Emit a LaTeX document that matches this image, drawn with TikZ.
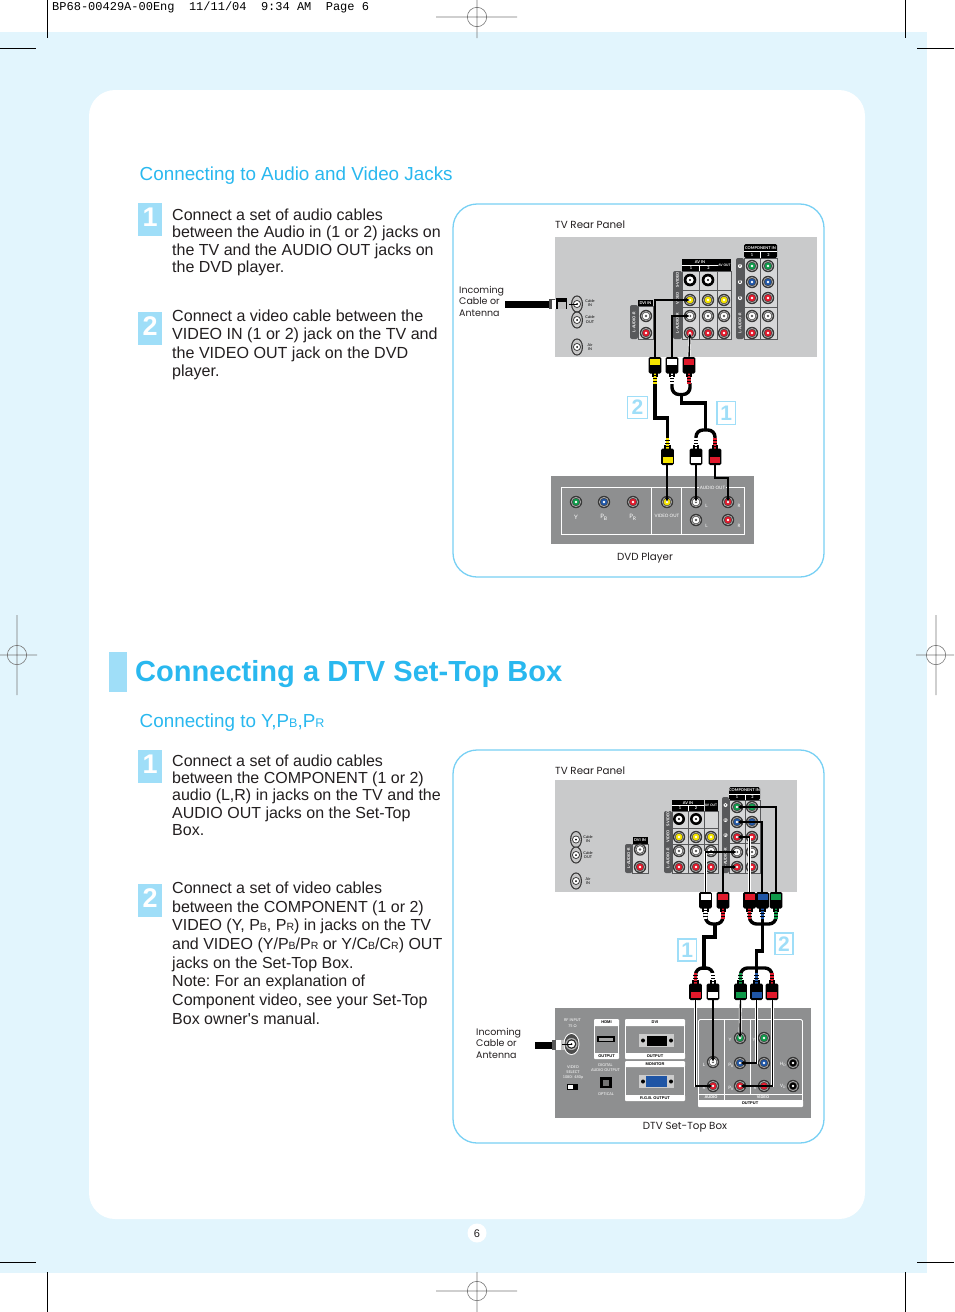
\documentclass[tikz,border=0pt]{standalone}
\usepackage{fontspec}
\setmainfont{Liberation Sans}
\newfontfamily\plainsans{Liberation Sans}
\newfontfamily\diafont{Poppins}
\newfontfamily\slimfont{Lato}
\newfontfamily\crfont{Liberation Mono}
\usetikzlibrary{arrows.meta}
\definecolor{pagebg}{HTML}{E2F5FD}
\definecolor{titlec}{HTML}{29B8EF}
\definecolor{badgec}{HTML}{9FDEF8}
\definecolor{framec}{HTML}{78D0F4}
\definecolor{panelc}{HTML}{C9CACB}
\definecolor{dvdc}{HTML}{8E8F90}
\definecolor{cellc}{HTML}{D6D7D8}
\definecolor{darkc}{HTML}{58595B}
\definecolor{bodyc}{HTML}{231F20}
\definecolor{jgreen}{HTML}{0E9A4A}
\definecolor{jblue}{HTML}{1F55A5}
\definecolor{jred}{HTML}{E0192B}
\definecolor{jyellow}{HTML}{F6E500}
\definecolor{markc}{HTML}{777777}
\newcount\labn
\frenchspacing
\def\whitename{white}
\tikzset{
  wire/.style={preaction={draw=white,line width=2.8,-},draw=black,line width=1.4,-{Latex[length=4.5,width=4.5]}},
  thickcable/.style={draw=black,line width=3.4,line cap=butt},
  roundframe/.style={draw=framec,line width=1.3,fill=white,rounded corners=24},
  bodytext/.style={anchor=north west,inner sep=0,align=left,text=bodyc,font=\fontsize{16}{18.2}\selectfont},
  tinylab/.style={inner sep=0,align=center,font=\slimfont\fontsize{3.8}{4.4}\selectfont},
  hdrlab/.style={text=white,font=\slimfont\bfseries\fontsize{3.9}{4.4}\selectfont},
  dvdlab/.style={text=white,font=\slimfont\fontsize{4.5}{6}\selectfont},
  stblab/.style={text=white,font=\slimfont\fontsize{3.8}{5}\selectfont},
  boxlab/.style={font=\bfseries\fontsize{4}{4}\selectfont},
  dialab/.style={inner sep=0,text=bodyc,font=\diafont\fontsize{10.3}{11.6}\selectfont},
  inclab/.style={dialab,anchor=north west,align=left,font=\diafont\fontsize{9.5}{11.5}\selectfont},
  cellbox/.style={fill=cellc,draw=darkc,line width=.9},
  strip/.style={fill=darkc},
  hdr/.style={fill=black},
  regmark/.style={draw=markc,line width=.6},
  cropmark/.style={draw=black,line width=.8},
}
% step badge on the left
\newcommand\stepbadge[4]{\fill[badgec] (#1,#2) rectangle ++(24,33);
  \node[inner sep=0,text=white,font=\bfseries\fontsize{27}{27}\selectfont] (#4) at (150.2,#2+14) {#3};}
% outlined number in a diagram
\newcommand\numbox[5]{\draw[draw=badgec,line width=1.6,fill=white] (#1,#2) rectangle (#3,#4);
  \node[inner sep=0,text=badgec,font=\bfseries\fontsize{21}{21}\selectfont] at ({(#1+#3)/2},{(#2+#4)/2}) {#5};}
% a jack: name x y ring colour
\newcommand\jack[4]{\coordinate (#1) at (#2,#3);
  \fill[black!78] (#1) circle (6.2);
  \fill[black!30] (#1) circle (5);
  \fill[black!70] (#1) circle (4.2);
  \fill[#4] (#1) circle (3.4);
  \def\tmpc{#4}\ifx\tmpc\whitename\fill[black!65] (#1) circle (1.3);\else\fill[white] (#1) circle (1.3);\fi}
% tall antenna jack
\newcommand\ovaljack[3]{\coordinate (#1) at (#2,#3);
  \fill[black!78] (#1) ellipse (6 and 8.6);
  \fill[black!22] (#1) ellipse (4.8 and 7.4);
  \fill[black!75] (#1) circle (4);
  \fill[white] (#1) circle (3);
  \fill[black] (#1) circle (1);}
% a plug: x y colour direction (+1 body goes down from y, -1 body goes up from y)
\newcommand\plug[4]{%
  \fill[#3] (#1-1.6,#2+#4*16) rectangle (#1+1.6,#2+#4*27);
  \fill[black] (#1-3.2,#2+#4*16) rectangle (#1+3.2,#2+#4*20);
  \fill[#3] (#1-1.2,#2+#4*16) rectangle (#1+1.2,#2+#4*26);
  \foreach \q in {18,21,24}{\fill[black] (#1-2.2,#2+#4*\q) rectangle (#1+2.2,#2+#4*\q+#4*.8);}
  \fill[black,rounded corners=1.5] (#1-6.4,#2) rectangle (#1+6.4,#2+#4*16.5);
  \fill[#3] (#1-5,#2+#4*2) rectangle (#1+5,#2+#4*8);}
\newcommand\lab[4][]{\global\advance\labn by 1
  \node[tinylab,#1] (lab\the\labn) at (#2,#3) {#4};}
\newcommand\sm[1]{{\fontsize{10.5}{10.5}\selectfont #1}}
\begin{document}
\begin{tikzpicture}[x=1pt,y=-1pt]
\useasboundingbox (0,0) rectangle (954,1312);
\fill[white] (0,0) rectangle (954,1312);
\fill[pagebg] (0,32) rectangle (927,1273);
\fill[white,rounded corners=26] (89,90) rectangle (865,1219);
\fill[white] (477,1233) circle (9.5);
\node[inner sep=0,text=bodyc,font=\fontsize{11}{11}\selectfont] (pageno) at (477,1233.5) {6};

% printer's marks
\node[anchor=west,inner sep=0,font=\crfont\fontsize{12}{12}\selectfont] (slug) at (52,7.5) {BP68-00429A-00Eng\ \ 11/11/04\ \ 9:34 AM\ \ Page 6};
\foreach \a/\b/\c/\d in {47.5/0/47.5/38, 0/48/36/48, 905.5/0/905.5/38, 917/48/954/48, 47.5/1272/47.5/1312, 0/1262/36/1262, 905.5/1272/905.5/1312, 917/1262/954/1262}
  {\draw[cropmark] (\a,\b) -- (\c,\d);}
\draw[regmark] (436,17) -- (517,17) (477,0) -- (477,38) (477,17) circle (9.7);
\draw[regmark] (436,1291) -- (517,1291) (477,1272) -- (477,1312) (477,1291) circle (9.7);
\draw[regmark] (0,655) -- (37,655) (17,615) -- (17,695) (17,655) circle (9.7);
\draw[regmark] (916,655) -- (954,655) (936,615) -- (936,695) (936,655) circle (9.7);

% headings
\node[anchor=base west,inner sep=0,text=titlec,font=\fontsize{18.85}{19}\selectfont] (h1) at (139.5,180) {Connecting to Audio and Video Jacks};
\fill[badgec] (109,652) rectangle (127,692);
\node[anchor=base west,inner sep=0,text=titlec,font=\bfseries\fontsize{29.05}{30}\selectfont] (h2) at (135,681.3) {Connecting a DTV Set-Top Box};
\node[anchor=base west,inner sep=0,text=titlec,font=\fontsize{18.85}{19}\selectfont] (h3) at (139.5,727.3) {Connecting to Y,P{\fontsize{12.5}{13}\selectfont B},P{\fontsize{12.5}{13}\selectfont R}};

% steps
\stepbadge{138}{203}{1}{b1}
\stepbadge{138}{312}{2}{b2}
\stepbadge{138}{750}{1}{b3}
\stepbadge{138}{884}{2}{b4}
\node[bodytext,font=\fontsize{16}{17.5}\selectfont] (t1) at (172,208.5) {Connect a set of audio cables\\between the Audio in (1 or 2) jacks on\\the TV and the AUDIO OUT jacks on\\the DVD player.};
\node[bodytext,font=\fontsize{16.08}{18.4}\selectfont] (t2) at (172,309.5) {Connect a video cable between the\\VIDEO IN (1 or 2) jack on the TV and\\the VIDEO OUT jack on the DVD\\player.};
\node[bodytext,font=\fontsize{16}{17.3}\selectfont] (t3) at (172,754.5) {Connect a set of audio cables\\between the COMPONENT (1 or 2)\\audio (L,R) in jacks on the TV and the\\AUDIO OUT jacks on the Set-Top\\Box.};
\node[bodytext,font=\fontsize{16}{18.72}\selectfont] (t4) at (172,881.5) {Connect a set of video cables\\between the COMPONENT (1 or 2)\\VIDEO (Y, P\sm{B}, P\sm{R}) in jacks on the TV\\and VIDEO (Y/P\sm{B}/P\sm{R} or Y/C\sm{B}/C\sm{R}) OUT\\jacks on the Set-Top Box.\\Note: For an explanation of\\Component video, see your Set-Top\\Box owner{\plainsans'}s manual.};

% ============ upper frame
\draw[roundframe] (453,204) rectangle (824,577);
\node[dialab,anchor=west] (tv1) at (555,225) {TV Rear Panel};
\fill[panelc] (555,237) rectangle (817,357);
\node[inclab] (inc1) at (459,286) {Incoming\\Cable or\\Antenna};
% antenna lead
\fill[black] (505,301) rectangle (549,307.5);
\fill[black!70] (549,299) rectangle (555,309);
\fill[white] (552,300) rectangle (556,309);
\fill[black] (556,298) rectangle (567,309);
\fill[black!25] (558,302) rectangle (566,309);
\ovaljack{ca}{577}{304}
\ovaljack{cb}{577}{320}
\ovaljack{cc}{577}{347}
\draw[black,line width=1] (ca) -- ++(-8,0);
\lab{590}{303}{Cable\\IN}
\lab{590}{319.5}{Cable\\OUT}
\lab{590}{347}{Air\\IN}
% AV IN block
\fill[strip,rounded corners=2] (673,271) rectangle (682,339);
\lab[hdrlab,rotate=90]{677.5}{280}{S-VIDEO}
\lab[hdrlab,rotate=90]{677.5}{298}{VIDEO}
\lab[hdrlab,rotate=90]{677.5}{323}{L-AUDIO-R}
\draw[cellbox] (682,271) rectangle (731,339);
\draw[darkc,line width=.9] (699.5,271) -- (699.5,339) (717.5,271) -- (717.5,339) (682,290) -- (731,290) (682,307) -- (731,307);
\fill[hdr] (682,259) rectangle (717.5,271);
\fill[hdr] (718,259) rectangle (731,271);
\draw[white,line width=.6] (682,265.5) -- (717.5,265.5) (699.5,265.5) -- (699.5,271);
\lab[hdrlab]{700}{262.3}{AV IN}
\lab[hdrlab]{691}{268.3}{1}
\lab[hdrlab]{708.5}{268.3}{2}
\lab[hdrlab,font=\slimfont\bfseries\fontsize{3.3}{4}\selectfont]{724.5}{265}{AV OUT}
\fill[black] (690,280) circle (6.3);
\fill[white] (690,280) circle (3.6);
\fill[black] (708,280) circle (6.3);
\fill[white] (708,280) circle (3.6);
\fill[black] (690,280) circle (1.2) (708,280) circle (1.2);
\jack{a1}{690}{300}{jyellow}
\jack{a2}{708}{300}{jyellow}
\jack{a3}{724}{300}{jyellow}
\jack{a4}{690}{316}{white}
\jack{a5}{708}{316}{white}
\jack{a6}{724}{316}{white}
\jack{a7}{690}{333}{jred}
\jack{a8}{708}{333}{jred}
\jack{a9}{724}{333}{jred}
% component block
\fill[strip,rounded corners=2] (736,258) rectangle (744,339);
\foreach \yy/\tt in {266/Y,282/B,298/R}{\fill[white] (740,\yy) circle (2.1);\lab{740}{\yy}{\tt}}
\lab[hdrlab,rotate=90]{740}{323}{L-AUDIO-R}
\draw[cellbox] (744,258) rectangle (777,339);
\draw[darkc,line width=.9] (760.5,258) -- (760.5,339) (744,307) -- (777,307);
\fill[hdr,rounded corners=1.5] (744,244) rectangle (777,258);
\draw[white,line width=.6] (744,251.5) -- (777,251.5) (760.5,251.5) -- (760.5,258);
\lab[hdrlab]{760.5}{247.8}{COMPONENT IN}
\lab[hdrlab]{752}{255}{1}
\lab[hdrlab]{768.5}{255}{2}
\jack{k1}{752}{266}{jgreen}\jack{k2}{768}{266}{jgreen}
\jack{k3}{752}{282}{jblue}\jack{k4}{768}{282}{jblue}
\jack{k5}{752}{298}{jred}\jack{k6}{768}{298}{jred}
\jack{k7}{752}{316}{white}\jack{k8}{768}{316}{white}
\jack{k9}{752}{333}{jred}\jack{k10}{768}{333}{jred}
% DVI IN block
\fill[strip,rounded corners=2] (630,305) rectangle (638,339);
\lab[hdrlab,rotate=90]{634}{322}{L-AUDIO-R}
\draw[cellbox] (638,306) rectangle (653,339);
\fill[hdr] (638,300) rectangle (653,306);
\lab[hdrlab]{645.5}{303}{DVI IN}
\jack{d1}{646}{316}{white}
\jack{d2}{646}{333}{jred}
% plugs and cables, upper TV side
\coordinate (py) at (655,357);
\coordinate (pw) at (672,357);
\coordinate (pr) at (689,357);
\draw[wire] (py) -- (py |- a1) -- (a1);
\draw[wire] (pw) -- (pw |- a4) -- (a4);
\draw[wire] (pr) -- (a7);
\coordinate (qy) at (667,465);
\coordinate (qw) at (696,465);
\coordinate (qr) at (715,465);
\draw[thickcable] (655,380) -- (655,418) -- (667.5,418) -- (667.5,440);
\draw[thickcable,rounded corners=7] (672,383) -- (672,394.5) -- (690,394.5) -- (690,383);
\draw[thickcable] (681.5,394) -- (681.5,403) -- (705.5,403) -- (705.5,430);
\draw[thickcable,rounded corners=7] (696,442) -- (696,430) -- (715,430) -- (715,442);
\plug{655}{357}{jyellow}{1}
\plug{672}{357}{white}{1}
\plug{689}{357}{jred}{1}
\plug{667.5}{465}{jyellow}{-1}
\plug{696}{465}{white}{-1}
\plug{715}{465}{jred}{-1}
\numbox{627.5}{396.5}{647.5}{418.5}{2}
\numbox{717}{401.5}{735.5}{424.5}{1}
% DVD player
\fill[dvdc] (551,476) rectangle (754,544);
\draw[white,line width=.9] (561.5,487.5) rectangle (744.5,534.5) (651.5,487.5) -- (651.5,534.5) (681.5,487.5) -- (681.5,534.5);
\jack{dy}{576}{502}{jgreen}
\jack{db}{604}{502}{jblue}
\jack{dr}{633}{502}{jred}
\jack{dv}{667}{502}{jyellow}
\jack{dl}{696}{502}{white}
\jack{dl2}{696}{520}{white}
\jack{drr}{728}{502}{jred}
\jack{drr2}{728}{520}{jred}
\lab[dvdlab,font=\slimfont\fontsize{6}{6}\selectfont]{576}{517.5}{Y}
\lab[dvdlab,font=\slimfont\fontsize{6}{6}\selectfont]{604}{517.5}{P\textsubscript{B}}
\lab[dvdlab,font=\slimfont\fontsize{6}{6}\selectfont]{633}{517.5}{P\textsubscript{R}}
\lab[dvdlab]{667}{516}{VIDEO OUT}
\lab[dvdlab,fill=dvdc,inner xsep=1]{712.5}{487.5}{AUDIO OUT}
\lab[dvdlab]{706.5}{506}{L}
\lab[dvdlab]{706.5}{526}{L}
\lab[dvdlab]{739}{506}{R}
\lab[dvdlab]{739}{526}{R}
\draw[wire] (qy) -- (dv);
\draw[wire] (qw) -- (dl);
\draw[wire] (qr) -- (715,478) -- (728,478) -- (drr);
\node[dialab] (dvd) at (645,557.7) {DVD Player};

% ============ lower frame
\draw[roundframe] (453,750) rectangle (824,1143);
\node[dialab,anchor=west] (tv2) at (555,771) {TV Rear Panel};
\fill[panelc] (555,780) rectangle (797,892);
\ovaljack{cd}{576}{839.5}
\ovaljack{ce}{576}{855}
\ovaljack{cf}{576}{881}
\lab{588}{839}{Cable\\IN}
\lab{588}{855}{Cable\\OUT}
\lab{588}{881}{Air\\IN}
% DVI IN
\fill[strip,rounded corners=2] (625,844) rectangle (632.5,873);
\lab[hdrlab,rotate=90]{628.7}{858}{L-AUDIO-R}
\draw[cellbox] (632.5,844) rectangle (648,873);
\fill[hdr] (632.5,837) rectangle (648,844);
\lab[hdrlab]{640}{840.5}{DVI IN}
\jack{e1}{640}{849.5}{white}
\jack{e2}{640}{867}{jred}
% AV
\fill[strip,rounded corners=2] (664,811) rectangle (672,873);
\lab[hdrlab,rotate=90]{668}{819}{S-VIDEO}
\lab[hdrlab,rotate=90]{668}{836}{VIDEO}
\lab[hdrlab,rotate=90]{668}{858}{L-AUDIO-R}
\draw[cellbox] (672,811) rectangle (718,873);
\draw[darkc,line width=.9] (688,811) -- (688,873) (704,811) -- (704,873) (672,828) -- (718,828) (672,844) -- (718,844);
\fill[hdr] (672,800) rectangle (704,811);
\fill[hdr] (704.5,800) rectangle (718,811);
\draw[white,line width=.6] (672,805.5) -- (704,805.5) (688,805.5) -- (688,811);
\lab[hdrlab]{688}{803}{AV IN}
\lab[hdrlab]{680}{808.5}{1}
\lab[hdrlab]{696}{808.5}{2}
\lab[hdrlab,font=\slimfont\bfseries\fontsize{3.3}{4}\selectfont]{711}{805.5}{AV OUT}
\fill[black] (679,819) circle (6);\fill[white] (679,819) circle (3.4);\fill[black] (679,819) circle (1.1);
\fill[black] (696,819) circle (6);\fill[white] (696,819) circle (3.4);\fill[black] (696,819) circle (1.1);
\jack{f1}{679}{837}{jyellow}\jack{f2}{696}{837}{jyellow}\jack{f3}{711}{837}{jyellow}
\jack{f4}{679}{851}{white}\jack{f5}{696}{851}{white}\jack{f6}{711}{851}{white}
\jack{f7}{679}{867}{jred}\jack{f8}{696}{867}{jred}\jack{f9}{711}{867}{jred}
% component
\fill[strip,rounded corners=2] (722,797) rectangle (729,873);
\foreach \yy/\tt in {805/Y,820/B,835/R}{\fill[white] (725.5,\yy) circle (2);\lab{725.5}{\yy}{\tt}}
\lab[hdrlab,rotate=90]{725.5}{858}{L-AUDIO-R}
\draw[cellbox] (729,800) rectangle (760,873);
\draw[darkc,line width=.9] (745,800) -- (745,873) (729,843) -- (760,843);
\fill[hdr,rounded corners=1.5] (729,787) rectangle (760,800);
\draw[white,line width=.6] (729,794) -- (760,794) (745,794) -- (745,800);
\lab[hdrlab]{744.5}{790.5}{COMPONENT IN}
\lab[hdrlab]{737}{797}{1}
\lab[hdrlab]{752.5}{797}{2}
\jack{m1}{737}{807}{jgreen}\jack{m2}{752}{807}{jgreen}
\jack{m3}{737}{822}{jblue}\jack{m4}{752}{822}{jblue}
\jack{m5}{737}{837}{jred}\jack{m6}{752}{837}{jred}
\jack{m7}{737}{852}{white}\jack{m8}{752}{852}{white}
\jack{m9}{737}{867}{jred}\jack{m10}{752}{867}{jred}
% wires to TV
\coordinate (ua) at (705.5,892);
\coordinate (ub) at (723,892);
\coordinate (uc) at (749.5,892);
\coordinate (ud) at (762,892);
\coordinate (ue) at (776,892);
\draw[wire] (ua) -- (ua |- m7) -- (m7);
\draw[wire] (ub) -- (ub |- m9) -- (m9);
\draw[wire] (uc) -- (uc |- m5) -- (m5);
\draw[wire] (ud) -- (ud |- m3) -- (m3);
\draw[wire] (ue) -- (ue |- m1) -- (m1);
% thick cables
\draw[thickcable,rounded corners=7] (705.5,912) -- (705.5,924) -- (723,924) -- (723,912);
\draw[thickcable] (715,924) -- (715,937) -- (704,937) -- (704,970);
\draw[thickcable,rounded corners=7] (749.5,912) -- (749.5,924) -- (776,924) -- (776,912);
\draw[thickcable] (762.5,914) -- (762.5,951) -- (756.5,951) -- (756.5,978);
\draw[thickcable,rounded corners=7] (695.5,978) -- (695.5,968) -- (713,968) -- (713,978);
\draw[thickcable,rounded corners=7] (740.5,978) -- (740.5,968) -- (772,968) -- (772,978);
\plug{705.5}{892}{white}{1}
\plug{723}{892}{jred}{1}
\plug{749.5}{892}{jred}{1}
\plug{762.5}{892}{jblue}{1}
\plug{776}{892}{jgreen}{1}
\plug{695.5}{1000}{jred}{-1}
\plug{713}{1000}{white}{-1}
\plug{740.5}{1000}{jgreen}{-1}
\plug{756.5}{1000}{jblue}{-1}
\plug{772}{1000}{jred}{-1}
\numbox{678}{939}{696.5}{961}{1}
\numbox{775}{933}{793}{954.5}{2}
% set-top box
\fill[dvdc] (555,1008) rectangle (811,1118);
\node[inclab] (inc2) at (476,1028) {Incoming\\Cable or\\Antenna};
\fill[black] (535,1041.5) rectangle (552,1048.5);
\fill[black!65] (552,1039.5) rectangle (556,1050);
\fill[white] (556,1039.5) rectangle (561,1050);
\fill[black!25] (561,1039.5) rectangle (565,1050);
\fill[white] (571.5,1044) ellipse (8 and 11);
\fill[black!70] (571.5,1044) ellipse (7 and 10);
\fill[black!30] (571.5,1044) circle (6);
\fill[black!85] (571.5,1044) circle (4.8);
\fill[white] (571.5,1044) circle (3.5);
\fill[black] (571.5,1044) circle (1);
\draw[black,line width=1] (571.5,1044) -- (562,1044);
\lab[stblab,font=\slimfont\fontsize{3.8}{6}\selectfont]{572.5}{1023.5}{RF INPUT\\75 Ω}
\lab[stblab]{573}{1072.5}{VIDEO\\SELECT\\1080i\ \ 480p}
\fill[black] (567,1084) rectangle (578,1090);
\fill[white] (568,1085) rectangle (573,1089);
\lab[stblab]{605.5}{1068}{DIGITAL\\AUDIO OUTPUT}
\fill[black] (600,1077) rectangle (612,1088);
\fill[black!55] (603,1080) rectangle (609,1086);
\lab[stblab]{606}{1094}{OPTICAL}
% HDMI
\draw[white,line width=.9,rounded corners=1.5] (594.5,1019.5) rectangle (618.5,1058.5);
\fill[white,rounded corners=1] (594,1019) rectangle (619,1026);
\fill[white,rounded corners=1] (594,1053) rectangle (619,1059);
\lab[boxlab]{606.5}{1022.5}{HDMI}
\lab[boxlab]{606.5}{1056}{OUTPUT}
\fill[black] (597,1036) rectangle (615,1042);
\fill[black!35] (599,1037.5) rectangle (613,1040.5);
% DVI
\draw[white,line width=.9,rounded corners=1.5] (625.5,1019.5) rectangle (684.5,1058.5);
\fill[white,rounded corners=1] (625,1019) rectangle (685,1026);
\fill[white,rounded corners=1] (625,1053) rectangle (685,1059);
\lab[boxlab]{655}{1022.5}{DVI}
\lab[boxlab]{655}{1056}{OUTPUT}
\fill[black!20] (639,1034) rectangle (674,1047);
\fill[black] (647,1035.5) rectangle (667,1045.5);
\fill[black] (643,1040.5) circle (2) (671,1040.5) circle (2);
% Monitor
\draw[white,line width=.9,rounded corners=1.5] (625.5,1061.5) rectangle (684.5,1100.5);
\fill[white,rounded corners=1] (625,1061) rectangle (685,1067);
\fill[white,rounded corners=1] (625,1095) rectangle (685,1101);
\lab[boxlab]{655}{1064.5}{MONITOR}
\lab[boxlab]{655}{1098}{R.G.B. OUTPUT}
\fill[black!20] (639,1075) rectangle (674,1088);
\fill[jblue] (646,1076) rectangle (667,1087);
\fill[black] (643,1081.5) circle (2) (671,1081.5) circle (2);
% output frame
\draw[white,line width=.9,rounded corners=1.5] (698.5,1019.5) rectangle (802.5,1106.5);
\draw[white,line width=.9] (724,1019.5) -- (724,1100) (750.5,1019.5) -- (750.5,1094) (698.5,1094) -- (802.5,1094);
\fill[white,rounded corners=1] (698,1100) rectangle (803,1107);
\lab[boxlab,text=white]{711}{1097}{AUDIO}
\lab[boxlab,text=white]{763}{1097}{VIDEO}
\lab[boxlab]{750}{1103.5}{OUTPUT}
\jack{s1}{740}{1038}{jgreen}
\jack{s2}{764}{1038}{jgreen}
\jack{s3}{713}{1062}{white}
\jack{s4}{740}{1063}{jblue}
\jack{s5}{764}{1063}{jblue}
\jack{s6}{793}{1063}{black}
\jack{s7}{713}{1086}{jred}
\jack{s8}{740}{1086}{jred}
\jack{s9}{764}{1086}{jred}
\jack{s10}{793}{1086}{black}
\lab[dvdlab]{730}{1040}{Y}
\lab[dvdlab]{754}{1040}{Y}
\lab[dvdlab]{704}{1065}{L}
\lab[dvdlab]{704}{1088}{R}
\lab[dvdlab]{731}{1065}{P\textsubscript{B}}
\lab[dvdlab]{731}{1088}{P\textsubscript{R}}
\lab[dvdlab]{755}{1088}{R}
\lab[dvdlab]{783}{1064}{H\textsubscript{D}}
\lab[dvdlab]{783}{1086}{V\textsubscript{D}}
% wires to box
\coordinate (va) at (695.5,1000);
\coordinate (vb) at (713,1000);
\coordinate (vc) at (740.5,1000);
\coordinate (vd) at (756.5,1000);
\coordinate (ve) at (772.5,1000);
\draw[wire] (va) -- (va |- s7) -- (s7);
\draw[wire] (vb) -- (s3);
\draw[wire] (vc) -- (s1);
\draw[wire] (vd) -- (vd |- s4) -- (s4);
\draw[wire] (ve) -- (ve |- s8) -- (s8);
\node[dialab] (stb) at (685,1127) {DTV Set-Top Box};
\end{tikzpicture}
\end{document}
